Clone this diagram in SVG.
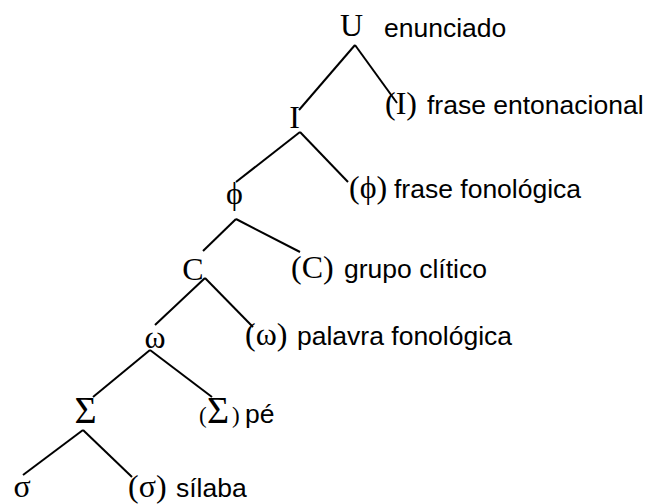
<svg xmlns="http://www.w3.org/2000/svg" width="651" height="504" viewBox="0 0 651 504">
<style>
.sym{font-family:"Liberation Serif","Times New Roman",serif;font-size:32px;fill:#000}
.big{font-size:38px}
.small{font-size:23px}
.lab{font-family:"Liberation Sans",Arial,sans-serif;font-size:26.5px;fill:#000}
.node{text-anchor:middle}
#connectors line{stroke:#000;stroke-width:2;fill:none}
</style>
<rect width="651" height="504" fill="#fff"/>
<g id="connectors">
<line x1="355" y1="45" x2="299" y2="110"/>
<line x1="355" y1="45" x2="397" y2="103"/>
<line x1="300" y1="132" x2="236" y2="182"/>
<line x1="300" y1="132" x2="348" y2="182"/>
<line x1="236" y1="219" x2="203" y2="251"/>
<line x1="236" y1="219" x2="300" y2="252"/>
<line x1="205" y1="278" x2="155" y2="325"/>
<line x1="205" y1="278" x2="253" y2="327"/>
<line x1="150" y1="350" x2="93" y2="397"/>
<line x1="150" y1="350" x2="212" y2="397"/>
<line x1="83" y1="430" x2="23" y2="475"/>
<line x1="83" y1="430" x2="132" y2="477"/>
</g>
<g id="node-U"><text class="sym node" x="351.5" y="36">U</text><text class="lab" x="384" y="37">enunciado</text></g>
<g id="node-I"><text class="sym node" x="294.5" y="128">I</text></g>
<g id="label-I"><text y="114"><tspan class="sym" x="385">(I) </tspan><tspan class="lab" x="427">frase entonacional</tspan></text></g>
<g id="node-phi"><text class="sym node" x="234.5" y="204">ϕ</text></g>
<g id="label-phi"><text y="198"><tspan class="sym" x="349">(ϕ) </tspan><tspan class="lab" x="394">frase fonológica</tspan></text></g>
<g id="node-C"><text class="sym node" x="193" y="280">C</text></g>
<g id="label-C"><text y="278"><tspan class="sym" x="291">(C) </tspan><tspan class="lab" x="344">grupo clítico</tspan></text></g>
<g id="node-omega"><text class="sym node" x="155" y="348">ω</text></g>
<g id="label-omega"><text y="345"><tspan class="sym" x="245">(ω) </tspan><tspan class="lab" x="297">palavra fonológica</tspan></text></g>
<g id="node-Sigma"><text class="sym big node" x="85.5" y="423">Σ</text></g>
<g id="label-Sigma"><text y="423"><tspan class="sym small" x="199">(</tspan><tspan class="sym big" x="207">Σ</tspan><tspan class="sym small" x="232">) </tspan><tspan class="lab" x="245">pé</tspan></text></g>
<g id="node-sigma"><text class="sym node" x="22" y="497">σ</text></g>
<g id="label-sigma"><text y="497"><tspan class="sym" x="128">(σ) </tspan><tspan class="lab" x="176">sílaba</tspan></text></g>
</svg>
